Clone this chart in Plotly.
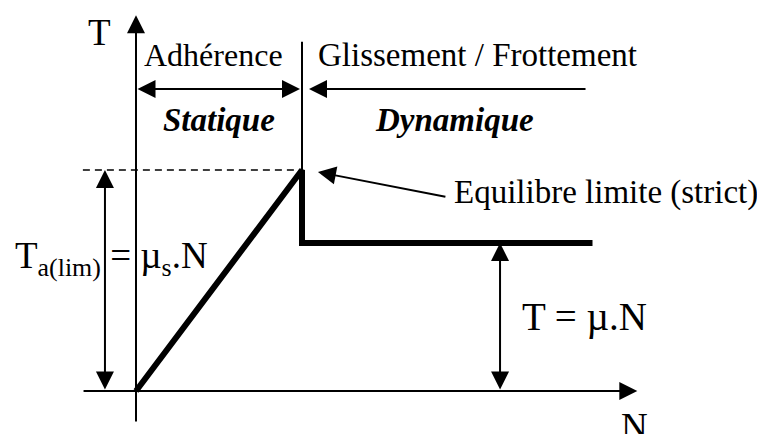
import plotly.graph_objects as go

# friction law T(N): static rise up to the limit, then constant sliding friction
n_curve = [0.0, 1.0, 1.0, 2.75]
t_curve = [0.0, 1.0, 0.67, 0.67]

n_lim = 1.0      # N at limit equilibrium
t_lim = 1.0      # T_a(lim) = mu_s.N
t_dyn = 0.67     # T = mu.N

# axis extents in diagram units
n_min, n_max = -0.325, 3.02
t_min, t_max = -0.145, 1.70
band_t = 1.367   # height of the Statique / Dynamique arrows
band_top = 1.58  # top of the separation line

FONT = "Liberation Serif, Times New Roman, serif"

fig = go.Figure()

# separation line between regimes
fig.add_trace(go.Scatter(x=[n_lim, n_lim], y=[t_lim, band_top], mode='lines',
                         line=dict(color='black', width=2), hoverinfo='skip'))
# dashed level of the limit
fig.add_trace(go.Scatter(x=[-0.32, n_lim], y=[t_lim, t_lim], mode='lines',
                         line=dict(color='black', width=1.5, dash='7px,5px'), hoverinfo='skip'))
# the friction curve itself
fig.add_trace(go.Scatter(x=n_curve, y=t_curve, mode='lines',
                         line=dict(color='black', width=6), hoverinfo='skip'))


def arrow(x0, y0, x1, y1, both=False, width=2):
    # arrow drawn from (x0, y0) to head at (x1, y1)
    fig.add_annotation(x=x1, y=y1, ax=x0, ay=y0, xref='x', yref='y', axref='x', ayref='y',
                       text='', showarrow=True, arrowhead=2, arrowsize=1.8, arrowwidth=width,
                       arrowcolor='black', arrowside='end+start' if both else 'end',
                       startarrowhead=2, startarrowsize=1.8, standoff=0, startstandoff=0)


# axes
arrow(0, t_min, 0, t_max)
arrow(n_min, 0, n_max, 0)
# regime arrows
arrow(0, band_t, 0.988, band_t, both=True)
arrow(2.717, band_t, 1.042, band_t)
# value arrows
arrow(-0.187, 0, -0.187, t_lim, both=True)
arrow(2.193, 0, 2.193, t_dyn, both=True)
# pointer to the limit
arrow(1.873, 0.878, 1.096, 0.991)


def label(x, y, text, size=32, anchor='center'):
    fig.add_annotation(x=x, y=y, xref='x', yref='y', text=text, showarrow=False,
                       xanchor=anchor, yanchor='middle',
                       font=dict(family=FONT, size=size, color='black'))


label(-0.217, 1.62, 'T', size=37)
label(3.0, -0.16, 'N', size=37)
label(0.464, 1.52, 'Adhérence')
label(2.06, 1.52, 'Glissement / Frottement', size=33)
label(0.5, 1.226, '<b><i>Statique</i></b>', size=33)
label(1.92, 1.226, '<b><i>Dynamique</i></b>', size=33)
label(1.904, 0.896, 'Equilibre limite (strict)', size=33, anchor='left')
label(-0.74, 0.60, 'T<sub>a(lim)</sub> = µ<sub>s</sub>.N', size=37, anchor='left')
label(2.313, 0.335, 'T = µ.N', size=39, anchor='left')

fig.update_layout(width=757, height=434, margin=dict(l=0, r=0, t=0, b=0),
                  plot_bgcolor='white', paper_bgcolor='white', showlegend=False)
fig.update_xaxes(range=[-136 / 166, 621 / 166], visible=False, fixedrange=True)
fig.update_yaxes(range=[-43 / 221, 391 / 221], visible=False, fixedrange=True)

fig.write_html("out.html", config={'displayModeBar': False},
               post_script="document.body.style.margin='0';")
